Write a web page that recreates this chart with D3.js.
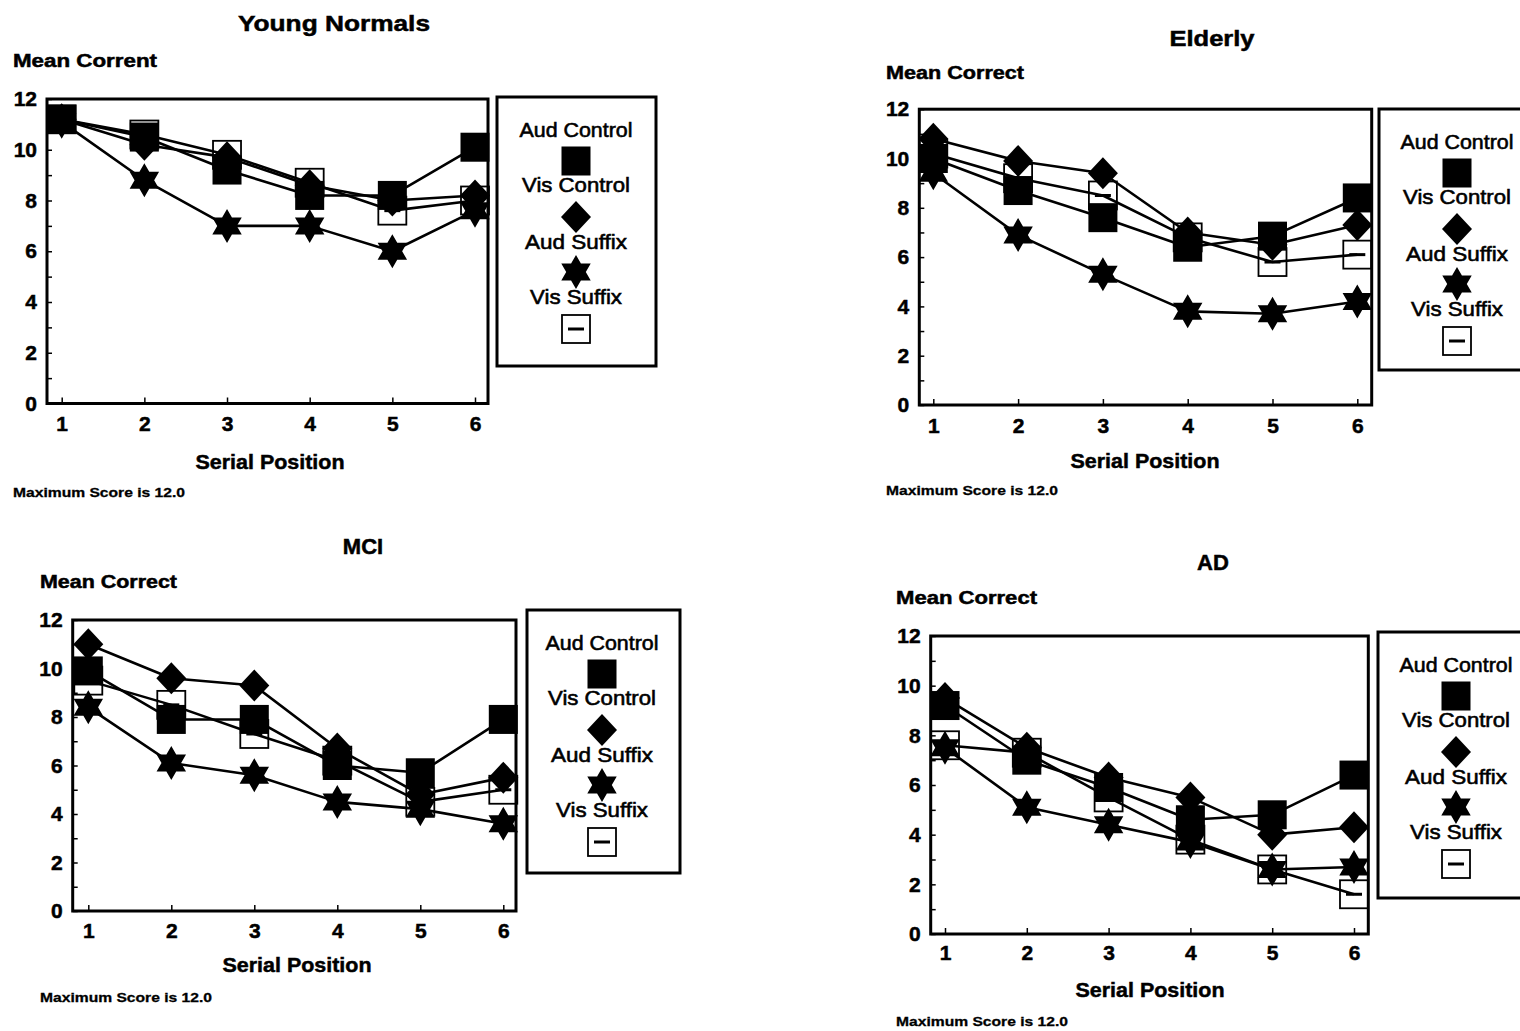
<!DOCTYPE html>
<html>
<head>
<meta charset="utf-8">
<script src="https://cdn.jsdelivr.net/npm/d3@7"></script>
<style>
  html, body { margin: 0; padding: 0; background: #fff; }
  svg { display: block; }
  text { font-family: "Liberation Sans", Arial, Helvetica, sans-serif; fill: #000; }
</style>
</head>
<body>
<svg id="chart" width="1520" height="1031"></svg>
<script>
// ---- data ----
const serialPositions = [1, 2, 3, 4, 5, 6];
const yTickValues = [0, 2, 4, 6, 8, 10, 12];
const seriesLabels = ["Aud Control", "Vis Control", "Aud Suffix", "Vis Suffix"];
const panelTitles = ["Young Normals", "Elderly", "MCI", "AD"];
const yAxisTitles = ["Mean Corrent", "Mean Correct", "Mean Correct", "Mean Correct"];
const xAxisTitle = "Serial Position";
const footNote = "Maximum Score is 12.0";

// Young Normals
const youngAudControl = [11.2, 10.5, 9.2, 8.2, 8.2, 10.1];
const youngVisControl = [11.2, 10.2, 9.7, 8.6, 8.0, 8.2];
const youngAudSuffix  = [11.1, 8.8, 7.0, 7.0, 6.0, 7.6];
const youngVisSuffix  = [11.2, 10.6, 9.8, 8.7, 7.6, 8.0];

// Elderly
const elderlyAudControl = [10.0, 8.7, 7.6, 6.4, 6.85, 8.4];
const elderlyVisControl = [10.8, 9.9, 9.4, 7.0, 6.5, 7.3];
const elderlyAudSuffix  = [9.4, 6.9, 5.3, 3.8, 3.7, 4.2];
const elderlyVisSuffix  = [10.2, 9.2, 8.5, 6.8, 5.8, 6.1];

// MCI
const mciAudControl = [9.9, 7.9, 7.9, 6.0, 5.7, 7.9];
const mciVisControl = [11.0, 9.6, 9.3, 6.7, 4.8, 5.5];
const mciAudSuffix  = [8.4, 6.1, 5.6, 4.5, 4.2, 3.6];
const mciVisSuffix  = [9.5, 8.5, 7.3, 6.2, 4.5, 5.0];

// AD
const adAudControl = [9.2, 7.0, 5.9, 4.6, 4.8, 6.4];
const adVisControl = [9.5, 7.5, 6.3, 5.5, 4.0, 4.3];
const adAudSuffix  = [7.5, 5.1, 4.4, 3.7, 2.6, 2.7];
const adVisSuffix  = [7.6, 7.3, 5.5, 3.8, 2.6, 1.6];

const panelData = [
  [youngAudControl, youngVisControl, youngAudSuffix, youngVisSuffix],
  [elderlyAudControl, elderlyVisControl, elderlyAudSuffix, elderlyVisSuffix],
  [mciAudControl, mciVisControl, mciAudSuffix, mciVisSuffix],
  [adAudControl, adVisControl, adAudSuffix, adVisSuffix]
];

// ---- layout ----
const FONT = '"Liberation Sans", Arial, Helvetica, sans-serif';
const panels = [
  { left: 47, right: 488, top: 99, bottom: 403.5, p1: 61.7, p6: 475,
    titleX: 334, titleY: 31, yTitleX: 13, yTitleY: 67, xTitleX: 270, xTitleY: 469,
    noteX: 13, noteY: 497, legL: 497, legR: 656, legT: 97, legB: 366, legCx: 576, xPad: 13 },
  { left: 919.3, right: 1371.7, top: 109.2, bottom: 405, p1: 933.3, p6: 1357.3,
    titleX: 1212, titleY: 46, yTitleX: 886, yTitleY: 79, xTitleX: 1145, xTitleY: 468,
    noteX: 886, noteY: 495, legL: 1379, legR: 1545, legT: 109, legB: 370, legCx: 1457, xPad: 13 },
  { left: 72.7, right: 516, top: 620, bottom: 911, p1: 88.3, p6: 503.3,
    titleX: 363, titleY: 554, yTitleX: 40, yTitleY: 588, xTitleX: 297, xTitleY: 972,
    noteX: 40, noteY: 1002, legL: 527, legR: 680, legT: 610, legB: 873, legCx: 602, xPad: 12 },
  { left: 930.7, right: 1368.3, top: 636, bottom: 934, p1: 945, p6: 1354,
    titleX: 1213, titleY: 570, yTitleX: 896, yTitleY: 604, xTitleX: 1150, xTitleY: 997,
    noteX: 896, noteY: 1026, legL: 1378, legR: 1545, legT: 632, legB: 898, legCx: 1456, xPad: 11 }
];
const yTitleWidths = [144, 138, 137, 141];
const titleWidths = [192, 85, null, null];
const legendTextWidths = [113, 108, 102, 92];
const legendTextOffsets = [33, 88, 145, 200];
const legendMarkerOffsets = [64, 120, 175, 232];

const svg = d3.select("#chart");

function addText(g, x, y, str, opts) {
  const t = g.append("text")
    .attr("x", x).attr("y", y)
    .attr("font-size", opts.size)
    .attr("font-weight", opts.weight || "bold")
    .attr("text-anchor", opts.anchor || "start")
    .attr("stroke", "#000")
    .attr("stroke-width", opts.heavy != null ? opts.heavy : 0.5)
    .text(str);
  if (opts.len) t.attr("textLength", opts.len).attr("lengthAdjust", "spacingAndGlyphs");
  return t;
}

// ---- markers ----
function filledSquare(g, cx, cy) {
  g.append("rect").attr("x", cx - 14.5).attr("y", cy - 14.5)
    .attr("width", 29).attr("height", 29).attr("fill", "#000");
}
function diamond(g, cx, cy) {
  g.append("path")
    .attr("d", `M${cx},${cy - 16}L${cx + 15},${cy}L${cx},${cy + 16}L${cx - 15},${cy}Z`)
    .attr("fill", "#000");
}
function hexagram(g, cx, cy) {
  const R = 17, r = R / Math.sqrt(3);
  const pts = d3.range(12).map(i => {
    const a = -Math.PI / 2 + i * Math.PI / 6;
    const rad = i % 2 === 0 ? R : r;
    return [cx + rad * Math.cos(a), cy + rad * Math.sin(a)];
  });
  g.append("path").attr("d", "M" + pts.map(p => p.join(",")).join("L") + "Z").attr("fill", "#000");
}
function openSquare(g, cx, cy) {
  g.append("rect").attr("x", cx - 14).attr("y", cy - 14)
    .attr("width", 28).attr("height", 28)
    .attr("fill", "none").attr("stroke", "#000").attr("stroke-width", 1.8);
  g.append("line").attr("x1", cx - 8).attr("x2", cx + 8).attr("y1", cy).attr("y2", cy)
    .attr("stroke", "#000").attr("stroke-width", 3);
}
const markerFns = [filledSquare, diamond, hexagram, openSquare];
// drawing order: open squares first, filled squares on top
const drawOrder = [3, 2, 1, 0];

function drawPanel(cfg, idx) {
  const data = panelData[idx];
  const g = svg.append("g");
  const x = d3.scaleLinear().domain([1, 6]).range([cfg.p1, cfg.p6]);
  const y = d3.scaleLinear().domain([0, 12]).range([cfg.bottom, cfg.top]);

  // axes (ticks point inward)
  const yAxis = g.append("g").attr("transform", `translate(${cfg.left},0)`)
    .call(d3.axisLeft(y).tickValues(d3.range(0, 13)).tickSizeInner(-5).tickSizeOuter(0)
      .tickPadding(10).tickFormat(d => yTickValues.includes(d) ? d : ""));
  const xAxis = g.append("g").attr("transform", `translate(0,${cfg.bottom})`)
    .call(d3.axisBottom(x).tickValues(serialPositions).tickSizeInner(-6).tickSizeOuter(0)
      .tickPadding(cfg.xPad).tickFormat(d3.format("d")));
  [yAxis, xAxis].forEach(a => {
    a.select(".domain").remove();
    a.attr("font-family", FONT).attr("font-size", 21).attr("font-weight", "bold");
    a.selectAll(".tick line").attr("stroke", "#000").attr("stroke-width", 1.5);
    a.selectAll(".tick text").attr("fill", "#000").attr("stroke", "#000").attr("stroke-width", 0.5);
  });

  // plot frame
  g.append("rect")
    .attr("x", cfg.left).attr("y", cfg.top)
    .attr("width", cfg.right - cfg.left).attr("height", cfg.bottom - cfg.top)
    .attr("fill", "none").attr("stroke", "#000").attr("stroke-width", 3);

  // series lines
  const line = d3.line().x((d, i) => x(serialPositions[i])).y(d => y(d));
  drawOrder.forEach(s => {
    g.append("path").datum(data[s]).attr("d", line)
      .attr("fill", "none").attr("stroke", "#000").attr("stroke-width", 2.6)
      .attr("stroke-linejoin", "round");
  });
  // series markers
  drawOrder.forEach(s => {
    data[s].forEach((v, i) => markerFns[s](g, x(serialPositions[i]), y(v)));
  });

  // titles
  addText(g, cfg.titleX, cfg.titleY, panelTitles[idx], { size: 22, anchor: "middle", len: titleWidths[idx] });
  addText(g, cfg.yTitleX, cfg.yTitleY, yAxisTitles[idx], { size: 18, len: yTitleWidths[idx] });
  addText(g, cfg.xTitleX, cfg.xTitleY, xAxisTitle, { size: 21, anchor: "middle", len: 149 });
  addText(g, cfg.noteX, cfg.noteY, footNote, { size: 13, len: 172, heavy: 0.3 });

  // legend
  const lg = g.append("g");
  lg.append("rect").attr("x", cfg.legL).attr("y", cfg.legT)
    .attr("width", cfg.legR - cfg.legL).attr("height", cfg.legB - cfg.legT)
    .attr("fill", "#fff").attr("stroke", "#000").attr("stroke-width", 3);
  seriesLabels.forEach((lab, i) => {
    addText(lg, cfg.legCx, cfg.legT + legendTextOffsets[i] + 7, lab,
      { size: 21, weight: "normal", anchor: "middle", len: legendTextWidths[i], heavy: 0.6 });
  });
  seriesLabels.forEach((lab, i) => {
    markerFns[i](lg, cfg.legCx, cfg.legT + legendMarkerOffsets[i]);
  });
}

panels.forEach((cfg, i) => drawPanel(cfg, i));
</script>
</body>
</html>
